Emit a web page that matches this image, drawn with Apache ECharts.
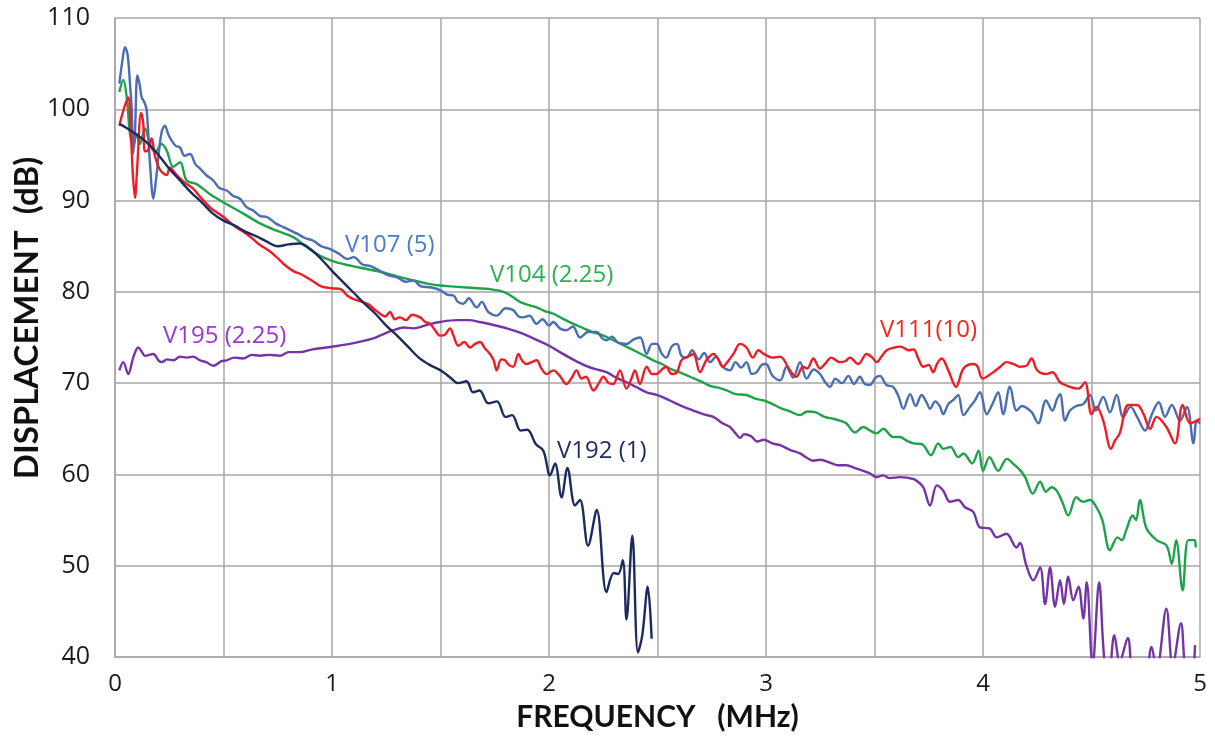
<!DOCTYPE html>
<html><head><meta charset="utf-8">
<script src="https://cdn.jsdelivr.net/npm/echarts@6/dist/echarts.min.js"></script>
<style>html,body{margin:0;padding:0;background:#fff}#c{width:1215px;height:738px}</style>
</head><body><div id="c"></div>
<script>
// ---- tick labels ----
const xTickLabels = ['0','1','2','3','4','5'];
const yTickLabels = ['40','50','60','70','80','90','100','110'];
const xTitle = 'FREQUENCY   (MHz)';
const yTitle = 'DISPLACEMENT  (dB)';

// ---- series names ----
const names = ['V195 (2.25)','V104 (2.25)','V107 (5)','V111(10)','V192 (1)'];

// ---- series values: [frequency MHz, displacement dB] ----
const v195 = [[0.02,71.4],[0.038,72.3],[0.061,71.0],[0.084,72.8],[0.107,73.9],[0.122,73.5],[0.138,73.0],[0.177,73.2],[0.2,72.5],[0.215,72.3],[0.24,72.6],[0.269,72.5],[0.3,72.9],[0.33,72.8],[0.36,72.9],[0.392,72.5],[0.42,72.3],[0.453,71.9],[0.49,72.4],[0.515,72.5],[0.55,72.8],[0.59,72.7],[0.63,73.1],[0.668,73.0],[0.71,73.1],[0.76,73.0],[0.8,73.4],[0.853,73.4],[0.91,73.7],[0.976,73.9],[1.03,74.1],[1.083,74.3],[1.14,74.6],[1.19,74.9],[1.24,75.4],[1.283,75.8],[1.33,76.1],[1.375,76.0],[1.44,76.4],[1.498,76.7],[1.575,76.9],[1.63,76.9],[1.682,76.7],[1.74,76.4],[1.805,76.0],[1.87,75.5],[1.928,74.9],[2.0,74.1],[2.05,73.4],[2.11,72.6],[2.17,71.9],[2.22,71.5],[2.265,71.2],[2.31,70.6],[2.357,70.1],[2.4,69.6],[2.45,69.0],[2.5,68.7],[2.557,68.1],[2.61,67.5],[2.665,67.0],[2.71,66.6],[2.757,66.3],[2.8,65.6],[2.834,65.2],[2.86,64.5],[2.88,64.0],[2.9,64.4],[2.93,64.2],[2.96,63.6],[2.99,63.8],[3.03,63.4],[3.065,63.2],[3.11,62.7],[3.157,62.3],[3.19,61.8],[3.218,61.5],[3.25,61.6],[3.295,61.3],[3.33,61.0],[3.37,61.0],[3.41,60.7],[3.448,60.4],[3.48,60.1],[3.51,59.7],[3.54,59.9],[3.57,59.6],[3.618,59.7],[3.68,59.5],[3.7,59.2],[3.725,58.6],[3.756,56.6],[3.787,58.8],[3.817,58.2],[3.848,57.0],[3.886,57.2],[3.917,56.4],[3.955,55.9],[3.986,54.2],[4.03,54.1],[4.063,53.1],[4.108,53.5],[4.155,52.0],[4.17,52.5],[4.2,50.0],[4.232,48.4],[4.263,49.8],[4.286,45.8],[4.309,49.8],[4.332,45.5],[4.355,48.4],[4.373,45.8],[4.393,48.8],[4.416,46.2],[4.44,47.7],[4.462,44.2],[4.478,48.2],[4.505,39.0],[4.535,48.2],[4.56,39.5],[4.58,38.5],[4.605,42.4],[4.63,39.5],[4.667,42.1],[4.69,37.5],[4.72,36.5],[4.75,37.5],[4.777,41.1],[4.8,38.5],[4.845,45.3],[4.874,39.0],[4.912,43.7],[4.935,38.0],[4.96,37.5],[4.977,41.3]];

const v104 = [[0.02,101.9],[0.038,103.2],[0.054,101.3],[0.069,97.3],[0.084,95.9],[0.1,97.3],[0.115,96.2],[0.138,97.9],[0.161,96.2],[0.184,95.3],[0.215,96.2],[0.238,95.5],[0.269,93.7],[0.3,94.2],[0.33,92.2],[0.376,91.8],[0.438,90.7],[0.515,89.6],[0.59,88.6],[0.668,87.5],[0.745,86.7],[0.822,86.0],[0.883,84.9],[0.94,84.0],[1.0,83.4],[1.06,83.0],[1.12,82.7],[1.221,82.2],[1.3,81.7],[1.375,81.25],[1.44,80.9],[1.498,80.7],[1.55,80.6],[1.605,80.5],[1.67,80.4],[1.728,80.3],[1.79,80.0],[1.83,79.5],[1.866,78.9],[1.9,78.6],[1.943,78.3],[1.98,77.9],[2.02,77.6],[2.06,77.1],[2.112,76.5],[2.16,76.0],[2.2,75.6],[2.25,75.2],[2.296,74.7],[2.34,74.2],[2.39,73.6],[2.44,73.0],[2.48,72.5],[2.52,72.1],[2.557,71.6],[2.6,71.2],[2.65,70.7],[2.7,70.2],[2.742,69.7],[2.78,69.5],[2.819,69.2],[2.86,68.8],[2.91,68.7],[2.95,68.3],[2.99,68.1],[3.03,67.7],[3.065,67.3],[3.11,66.9],[3.157,66.5],[3.19,66.9],[3.23,66.8],[3.27,66.3],[3.31,66.1],[3.34,65.9],[3.37,65.6],[3.41,64.6],[3.448,65.2],[3.48,64.8],[3.51,64.5],[3.54,65.0],[3.586,64.1],[3.618,64.1],[3.648,63.7],[3.68,63.4],[3.72,63.3],[3.76,62.1],[3.794,63.4],[3.817,62.8],[3.85,63.0],[3.886,61.9],[3.91,62.3],[3.95,61.2],[3.98,62.6],[4.0,60.4],[4.03,61.9],[4.07,60.4],[4.11,61.7],[4.147,61.0],[4.17,60.5],[4.194,59.7],[4.23,57.9],[4.263,59.2],[4.29,58.1],[4.315,58.6],[4.34,58.2],[4.365,57.0],[4.393,55.5],[4.43,57.5],[4.46,57.0],[4.493,57.2],[4.523,56.4],[4.55,55.0],[4.585,51.7],[4.62,53.1],[4.64,52.8],[4.66,53.9],[4.69,55.5],[4.705,55.0],[4.723,57.2],[4.753,54.1],[4.8,52.8],[4.846,52.2],[4.87,50.2],[4.89,52.8],[4.92,47.3],[4.946,52.8],[4.977,52.8],[4.98,52.0]];

const v107 = [[0.02,102.8],[0.035,105.5],[0.046,106.8],[0.058,106.0],[0.07,102.5],[0.077,100],[0.084,95.2],[0.092,97.5],[0.103,103.7],[0.113,102.8],[0.123,101.3],[0.135,100.8],[0.146,99.9],[0.16,94.5],[0.177,90.2],[0.19,92.5],[0.2,94.8],[0.215,97.5],[0.23,98.2],[0.245,97.3],[0.26,96.6],[0.28,96.0],[0.3,95.8],[0.32,94.9],[0.346,95.1],[0.37,94.0],[0.392,93.5],[0.42,92.8],[0.453,92.2],[0.48,91.4],[0.515,91.1],[0.545,90.5],[0.576,90.2],[0.605,89.3],[0.637,88.9],[0.67,88.3],[0.7,88.2],[0.74,87.5],[0.776,87.1],[0.81,86.7],[0.837,86.4],[0.875,85.9],[0.914,85.6],[0.95,85.0],[0.99,84.7],[1.03,84.2],[1.07,83.6],[1.1,83.8],[1.14,83.0],[1.18,82.8],[1.221,82.3],[1.26,81.8],[1.3,81.6],[1.34,81.1],[1.375,81.25],[1.41,80.6],[1.452,80.5],[1.498,80.2],[1.53,79.7],[1.56,79.6],[1.58,78.9],[1.605,78.7],[1.63,79.3],[1.667,78.3],[1.69,78.9],[1.72,77.8],[1.759,77.4],[1.8,78.2],[1.835,78.0],[1.86,77.3],[1.882,77.2],[1.91,77.4],[1.943,76.5],[1.97,77.0],[2.0,76.3],[2.02,76.7],[2.05,76.0],[2.08,75.8],[2.11,76.2],[2.143,75.0],[2.18,75.6],[2.22,75.6],[2.245,74.9],[2.265,74.7],[2.29,75.1],[2.32,74.4],[2.357,74.3],[2.39,74.8],[2.42,75.0],[2.45,73.2],[2.475,74.3],[2.496,74.3],[2.52,73.2],[2.54,72.8],[2.565,74.0],[2.59,74.3],[2.61,73.0],[2.634,72.8],[2.66,73.6],[2.69,72.6],[2.715,73.3],[2.742,72.3],[2.77,72.9],[2.8,71.8],[2.834,71.4],[2.86,72.3],[2.885,71.7],[2.91,72.3],[2.935,71.0],[2.957,71.2],[2.98,72.0],[3.0,72.1],[3.03,70.8],[3.065,70.3],[3.095,71.8],[3.125,70.6],[3.157,72.3],[3.187,70.5],[3.22,71.5],[3.249,71.0],[3.27,70.2],[3.295,69.6],[3.32,70.5],[3.35,70.0],[3.38,70.8],[3.405,69.9],[3.433,70.7],[3.455,69.9],[3.479,69.8],[3.505,70.6],[3.525,70.8],[3.555,69.8],[3.586,69.6],[3.61,68.6],[3.633,67.2],[3.664,68.8],[3.69,67.5],[3.717,68.7],[3.74,67.9],[3.756,67.2],[3.78,68.0],[3.8,67.5],[3.817,66.6],[3.84,67.7],[3.865,68.2],[3.886,68.7],[3.91,66.5],[3.94,67.4],[3.96,68.0],[3.986,69.0],[4.017,66.6],[4.045,67.8],[4.07,69.0],[4.093,66.6],[4.124,69.6],[4.155,67.0],[4.18,67.5],[4.2,67.3],[4.225,66.8],[4.255,65.6],[4.29,68.1],[4.32,67.0],[4.34,68.2],[4.355,68.8],[4.378,65.9],[4.4,67.0],[4.43,67.5],[4.462,67.7],[4.493,68.7],[4.52,67.0],[4.554,68.5],[4.585,66.8],[4.616,68.7],[4.646,66.3],[4.68,67.4],[4.71,66.3],[4.747,64.8],[4.78,66.7],[4.81,67.9],[4.839,66.3],[4.87,67.6],[4.908,65.9],[4.94,67.4],[4.97,63.4],[4.985,65.9],[5.0,65.6]];

const v111 = [[0.02,98.2],[0.04,100.0],[0.061,101.3],[0.072,98],[0.082,93],[0.092,90.3],[0.102,93.5],[0.12,99.6],[0.13,98.5],[0.138,95.4],[0.152,95.5],[0.169,96.8],[0.184,94.9],[0.207,93.4],[0.238,92.8],[0.253,93.6],[0.284,92.8],[0.32,92.0],[0.36,91.3],[0.4,90.2],[0.44,89.2],[0.47,88.7],[0.5,88.2],[0.55,87.2],[0.59,86.6],[0.63,85.9],[0.67,85.1],[0.71,84.5],[0.745,83.8],[0.78,83.0],[0.82,82.3],[0.86,81.9],[0.91,81.2],[0.95,80.6],[1.0,80.4],[1.04,80.3],[1.07,79.6],[1.1,79.2],[1.14,78.9],[1.17,78.6],[1.2,78.0],[1.221,77.6],[1.245,77.3],[1.267,77.8],[1.29,77.0],[1.313,77.2],[1.34,76.9],[1.37,77.5],[1.406,77.2],[1.43,76.7],[1.452,76.5],[1.475,75.8],[1.498,75.2],[1.52,75.3],[1.544,76.0],[1.56,75.2],[1.582,74.1],[1.61,74.5],[1.636,73.9],[1.66,74.3],[1.682,74.5],[1.705,73.8],[1.728,73.2],[1.745,72.5],[1.759,71.4],[1.78,72.6],[1.797,72.5],[1.815,72.0],[1.835,71.8],[1.859,73.2],[1.875,72.5],[1.897,72.1],[1.92,72.3],[1.943,72.5],[1.965,71.6],[1.989,71.0],[2.02,71.4],[2.05,70.8],[2.08,69.9],[2.105,70.6],[2.127,71.4],[2.15,70.5],[2.17,70.7],[2.205,69.2],[2.23,70.0],[2.25,70.7],[2.275,70.0],[2.296,69.9],[2.327,71.4],[2.357,69.4],[2.38,70.5],[2.396,71.4],[2.419,69.9],[2.45,71.8],[2.475,71.0],[2.496,71.0],[2.52,71.5],[2.54,71.8],[2.565,71.0],[2.59,71.2],[2.61,72.5],[2.64,72.9],[2.665,73.2],[2.696,71.2],[2.725,72.5],[2.757,73.2],[2.78,72.6],[2.8,71.8],[2.825,72.4],[2.85,73.2],[2.88,74.3],[2.91,73.9],[2.94,72.8],[2.965,73.6],[2.99,73.2],[3.03,72.8],[3.065,72.9],[3.11,71.4],[3.14,70.7],[3.17,71.8],[3.19,71.6],[3.218,72.7],[3.249,71.6],[3.275,72.2],[3.3,72.8],[3.34,72.3],[3.365,72.4],[3.387,72.8],[3.425,72.1],[3.464,73.2],[3.49,72.8],[3.51,72.3],[3.535,73.0],[3.556,73.6],[3.59,73.9],[3.618,74.0],[3.64,73.8],[3.656,73.6],[3.68,73.7],[3.7,72.8],[3.725,71.8],[3.75,72.0],[3.77,71.2],[3.79,72.2],[3.81,72.7],[3.84,71.4],[3.876,69.6],[3.91,71.6],[3.955,72.1],[3.975,71.8],[3.998,70.5],[4.047,71.2],[4.08,71.8],[4.108,72.3],[4.14,72.1],[4.17,71.8],[4.2,71.9],[4.224,72.7],[4.25,71.4],[4.29,71.0],[4.32,71.2],[4.355,70.1],[4.4,69.6],[4.44,69.4],[4.47,70.1],[4.5,66.6],[4.523,67.4],[4.554,65.9],[4.59,62.8],[4.608,63.7],[4.63,64.5],[4.67,67.6],[4.71,67.6],[4.74,66.6],[4.77,65.0],[4.8,66.3],[4.845,65.2],[4.885,63.4],[4.92,67.6],[4.955,65.6],[5.0,66.1]];

const v192 = [[0.02,98.4],[0.05,98.0],[0.1,97.2],[0.15,96.3],[0.2,95.0],[0.25,93.5],[0.3,92.2],[0.35,90.9],[0.4,89.8],[0.45,88.6],[0.5,87.8],[0.55,87.3],[0.6,86.6],[0.65,86.1],[0.7,85.5],[0.75,85.0],[0.8,85.2],[0.85,85.3],[0.9,84.7],[0.95,83.6],[1.0,82.3],[1.05,81.1],[1.1,79.9],[1.15,78.7],[1.2,77.6],[1.25,76.3],[1.3,75.2],[1.35,74.0],[1.4,72.8],[1.45,72.0],[1.5,71.4],[1.53,70.9],[1.55,70.5],[1.58,70.0],[1.62,70.2],[1.65,69.0],[1.68,69.2],[1.72,67.8],[1.76,68.0],[1.8,66.3],[1.83,66.5],[1.87,64.8],[1.9,64.9],[1.94,63.3],[1.974,62.6],[2.005,59.9],[2.028,61.2],[2.058,57.5],[2.085,60.7],[2.12,56.6],[2.143,57.2],[2.18,52.2],[2.22,56.1],[2.265,47.1],[2.298,49.2],[2.319,49.1],[2.34,50.6],[2.357,44.1],[2.384,53.3],[2.41,40.5],[2.43,42.4],[2.455,47.7],[2.473,42.0]];

// ---- in-plot series labels: [frequency, dB] of the label's left edge ----
const labelPos = [[0.221,75.1],[1.728,81.8],[1.06,85.1],[3.525,75.8],[2.037,62.6]];

const lineColors  = ['#7434a6','#1fa34a','#4a6db3','#ee1c24','#1c2b5e'];
const labelColors = ['#9d34d6','#2bb24c','#4a7bd0','#f0281e','#1c2b5e'];
const data = [v195, v104, v107, v111, v192];

const chart = echarts.init(document.getElementById('c'), null, {renderer:'canvas'});
const FONT = '"Open Sans", "Noto Sans", sans-serif';
const TFONT = '"Lato", "Open Sans", sans-serif';

const series = data.map((d, i) => ({
  name: names[i],
  type: 'line',
  data: d,
  showSymbol: false,
  smooth: 0.35,
  clip: true,
  z: 2 + i,
  lineStyle: {width: 2.4, color: lineColors[i]},
  itemStyle: {color: lineColors[i]},
  markPoint: {
    symbol: 'circle', symbolSize: 0, animation: false,
    label: {show: true, position: 'right', distance: 0, formatter: names[i],
            color: labelColors[i], fontSize: 24, fontFamily: FONT},
    data: [{coord: labelPos[i]}]
  }
}));

chart.setOption({
  animation: false,
  backgroundColor: '#ffffff',
  grid: {left: 115, right: 15, top: 18, bottom: 81, containLabel: false},
  xAxis: {
    type: 'value', min: 0, max: 5, interval: 0.5,
    name: xTitle, nameLocation: 'middle', nameGap: 45,
    nameTextStyle: {fontSize: 30, fontWeight: 'bold', color: '#111', fontFamily: TFONT},
    axisLine: {show: true, lineStyle: {color: '#a6a6a6', width: 1.5}},
    axisTick: {show: false},
    axisLabel: {margin: 15, fontSize: 24, color: '#1a1a1a', fontFamily: FONT,
      formatter: v => (Math.abs(v - Math.round(v)) < 1e-9 ? xTickLabels[Math.round(v)] : '')},
    splitLine: {show: true, lineStyle: {color: '#a6a6a6', width: 1.5}}
  },
  yAxis: {
    type: 'value', min: 40, max: 110, interval: 10,
    axisLine: {show: true, lineStyle: {color: '#a6a6a6', width: 1.5}},
    axisTick: {show: false},
    axisLabel: {margin: 25, fontSize: 25, color: '#1a1a1a', fontFamily: FONT,
      formatter: v => yTickLabels[Math.round((v - 40) / 10)]},
    splitLine: {show: true, lineStyle: {color: '#a6a6a6', width: 1.5}}
  },
  graphic: [{
    type: 'text', x: 27, y: 318, rotation: Math.PI / 2,
    style: {text: yTitle, fill: '#111', font: 'bold 33px "Lato", "Open Sans", sans-serif',
            textAlign: 'center', textVerticalAlign: 'middle'}
  }],
  series: series
});
</script></body></html>
